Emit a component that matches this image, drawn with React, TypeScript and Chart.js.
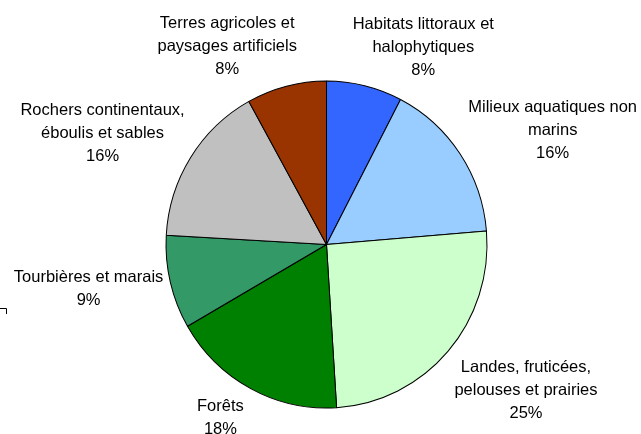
import React, { useEffect, useRef } from "react";
import { Chart, registerables } from "chart.js";

Chart.register(...registerables);

const categories: string[][] = [
  ["Habitats littoraux et", "halophytiques"],
  ["Milieux aquatiques non", "marins"],
  ["Landes, fruticées,", "pelouses et prairies"],
  ["Forêts"],
  ["Tourbières et marais"],
  ["Rochers continentaux,", "éboulis et sables"],
  ["Terres agricoles et", "paysages artificiels"],
];
const counts: number[] = [19, 40, 63, 44, 23, 40, 20];
const colors: string[] = ["#3366FF", "#99CCFF", "#CCFFCC", "#008000", "#339966", "#C0C0C0", "#993300"];
// label nudges (text placement only) relative to a point just outside each slice
const labelNudgeX: number[] = [48, 55, 44, -9, -38, -50, -48];
const labelNudgeY: number[] = [1, -2, 10, -9, -4, -3, 0];

const FONT = '16.5px "Liberation Sans", Arial, sans-serif';
const LINE_H = 23;
const Y_STRETCH = 327 / 321;

const stretchPlugin = {
  id: "stretchPie",
  beforeDatasetsDraw(chart: any) {
    const ctx = chart.ctx as CanvasRenderingContext2D;
    const arc = chart.getDatasetMeta(0).data[0];
    ctx.save();
    ctx.translate(0, arc.y);
    ctx.scale(1, Y_STRETCH);
    ctx.translate(0, -arc.y);
  },
  afterDatasetsDraw(chart: any) {
    chart.ctx.restore();
  },
};

const labelPlugin = {
  id: "outsideLabels",
  afterDatasetsDraw(chart: any) {
    const ctx = chart.ctx as CanvasRenderingContext2D;
    const meta = chart.getDatasetMeta(0);
    const total = counts.reduce((a, b) => a + b, 0);
    ctx.save();
    ctx.font = FONT;
    ctx.fillStyle = "#000";
    ctx.textAlign = "center";
    ctx.textBaseline = "alphabetic";
    meta.data.forEach((arc: any, i: number) => {
      const mid = (arc.startAngle + arc.endAngle) / 2;
      const R = arc.outerRadius + 45;
      const cx = arc.x + Math.cos(mid) * R + labelNudgeX[i];
      const cy = arc.y + Math.sin(mid) * R + labelNudgeY[i];
      const pct = Math.round((counts[i] / total) * 100) + "%";
      const lines = [...categories[i], pct];
      const n = lines.length;
      lines.forEach((t, j) => {
        const y = cy - ((n - 1) * LINE_H) / 2 + j * LINE_H + 5.9;
        ctx.fillText(t, cx, y);
      });
    });
    // small corner mark at left edge
    ctx.strokeStyle = "#000";
    ctx.lineWidth = 1;
    ctx.beginPath();
    ctx.moveTo(0, 308.5);
    ctx.lineTo(6.5, 308.5);
    ctx.lineTo(6.5, 314);
    ctx.stroke();
    ctx.restore();
  },
};

export default function App() {
  const ref = useRef<HTMLCanvasElement | null>(null);
  useEffect(() => {
    if (!ref.current) return;
    const chart = new Chart(ref.current, {
      type: "pie",
      data: {
        labels: categories.map((c) => c.join(" ")),
        datasets: [
          {
            data: counts,
            backgroundColor: colors,
            borderColor: "#000",
            borderWidth: 1,
          },
        ],
      },
      options: {
        responsive: false,
        animation: false,
        layout: { padding: { left: 165.5, right: 153.5, top: 83.5, bottom: 28.5 } },
        plugins: { legend: { display: false }, tooltip: { enabled: false } },
      },
      plugins: [stretchPlugin, labelPlugin],
    });
    return () => chart.destroy();
  }, []);
  return (
    <div style={{ position: "fixed", left: 0, top: 0, width: 641, height: 434, background: "#fff" }}>
      <canvas ref={ref} width={641} height={434} style={{ width: 641, height: 434 }} />
    </div>
  );
}
